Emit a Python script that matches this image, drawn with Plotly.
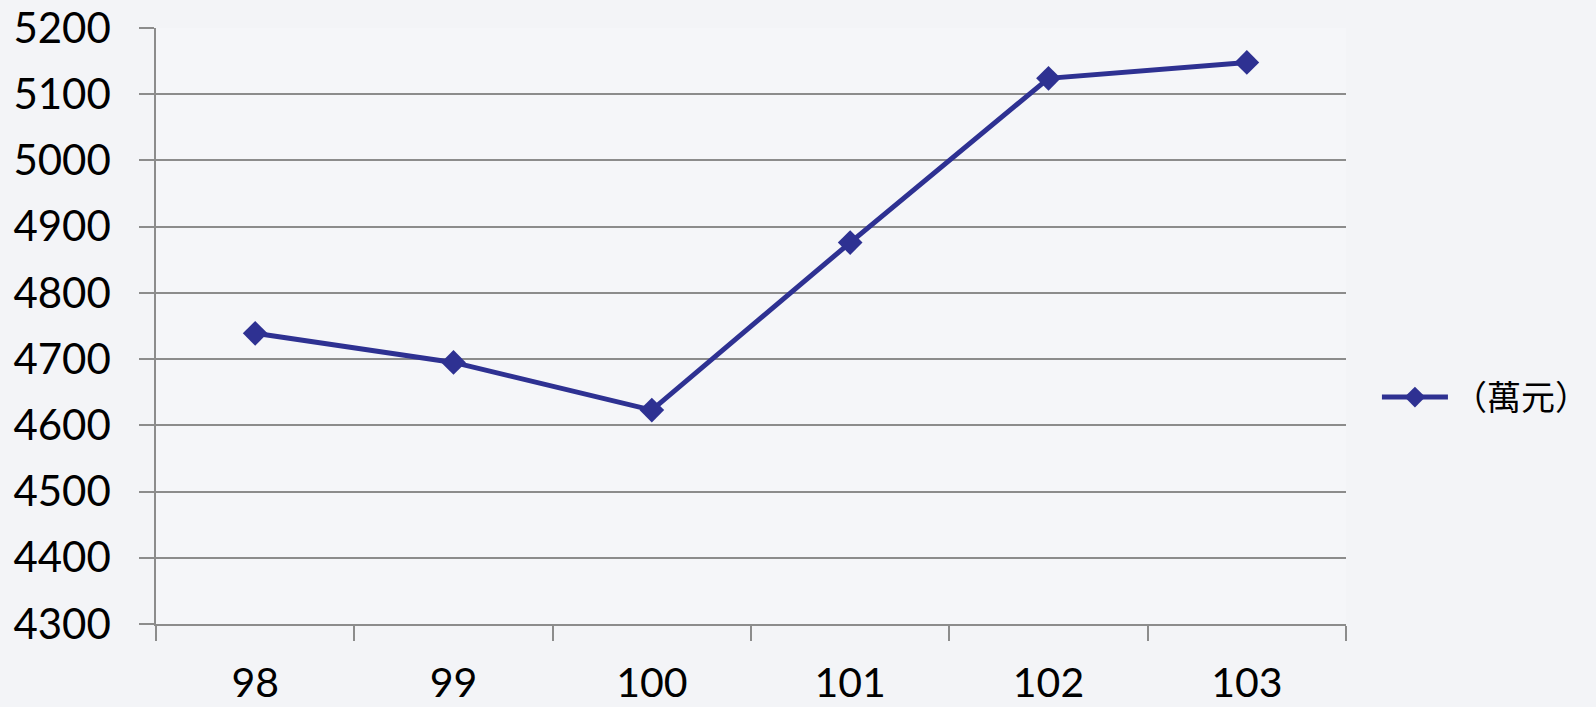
import plotly.graph_objects as go

years = ["98", "99", "100", "101", "102", "103"]
values = [4739, 4695, 4623, 4876, 5124, 5148]
series_name = "（萬元）"
y_ticks = [4300, 4400, 4500, 4600, 4700, 4800, 4900, 5000, 5100, 5200]

W, H = 1596, 707
L, R, T, B = 156, 250, 28, 83

fig = go.Figure()
fig.add_trace(go.Scatter(
    x=years, y=values, name=series_name, mode="lines+markers",
    line=dict(color="#2e3192", width=5),
    marker=dict(symbol="diamond", size=19, color="#2e3192"),
))

fig.update_layout(
    width=W, height=H,
    margin=dict(l=L, r=R, t=T, b=B, pad=0, autoexpand=False),
    paper_bgcolor="#f3f4f7",
    plot_bgcolor="#f5f6f9",
    showlegend=True,
    legend=dict(
        x=1.026, y=0.38, xanchor="left", yanchor="middle",
        font=dict(family="Noto Sans CJK TC", size=34, color="#000000"),
        bgcolor="rgba(0,0,0,0)", itemwidth=66,
    ),
    font=dict(family="Lato", color="#000000"),
)
fig.update_xaxes(
    type="category", tickson="boundaries", automargin=False,
    showgrid=False, showline=True, linecolor="#8c8c8c", linewidth=1.5,
    ticks="outside", ticklen=15, tickwidth=1.5, tickcolor="#8c8c8c",
    tickfont=dict(family="Lato", size=41, color="#000000"),
    ticklabelstandoff=22, range=[-0.5, 5.5],
)
fig.update_yaxes(
    range=[4300, 5200], tickvals=y_ticks, ticktext=[str(v) for v in y_ticks],
    automargin=False,
    showgrid=True, gridcolor="#8c8c8c", gridwidth=1.5,
    showline=True, linecolor="#8c8c8c", linewidth=1.5,
    ticks="outside", ticklen=15, tickwidth=1.5, tickcolor="#8c8c8c",
    tickfont=dict(family="Lato", size=42, color="#000000"),
    ticklabelstandoff=20, zeroline=False,
)
fig.write_html(
    "out.html",
    config={"displayModeBar": False},
    post_script="document.body.style.margin='0';document.body.style.background='#f3f4f7';",
)
